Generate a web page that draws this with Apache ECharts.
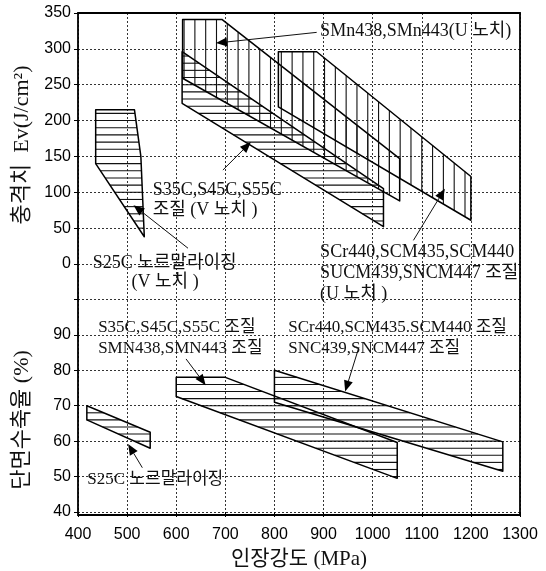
<!DOCTYPE html>
<html><head><meta charset="utf-8">
<script src="https://cdn.jsdelivr.net/npm/echarts@6/dist/echarts.min.js"></script>
<style>html,body{margin:0;padding:0;background:#fff}#c{width:546px;height:571px}</style>
</head><body><div id="c"></div>
<script>
// ---- axis ticks ----
const tensileTicks = [400, 500, 600, 700, 800, 900, 1000, 1100, 1200, 1300];
const impactTicks = [0, 50, 100, 150, 200, 250, 300, 350];
const reductionTicks = [40, 50, 60, 70, 80, 90];

// ---- upper panel: tensile strength (MPa) vs impact value (J/cm2) ----
const s25cImpactX = [436, 515, 528, 535, 436];
const s25cImpactY = [215, 215, 150, 38, 140];
const s35cImpactX = [612, 1022, 1022, 612];
const s35cImpactY = [296, 105, 52, 224];
const smnImpactX = [613, 693, 1055, 1055, 613];
const smnImpactY = [341, 341, 147, 88, 259];
const scrImpactX = [808, 886, 1200, 1200, 808];
const scrImpactY = [296, 296, 122, 61, 219];

// ---- lower panel: tensile strength (MPa) vs reduction of area (%) ----
const s25cRedX = [418, 547, 547, 418];
const s25cRedY = [70, 62.5, 58, 66];
const s35cRedX = [600, 700, 1050, 1050, 600];
const s35cRedY = [78, 78, 59.6, 49.5, 72.6];
const scrRedX = [800, 1265, 1265, 800];
const scrRedY = [80, 59.8, 51.5, 71];

// ---- annotations ----
const topLabelX = [893, 552, 552, 430, 509, 893, 893, 893];
const topLabelY = [324, 103, 75, 1, -25, 17, -13, -42];
const topLabelText = ['SMn438,SMn443(U 노치)', 'S35C,S45C,S55C', '조질 (V 노치 )', 'S25C 노르말라이징', '(V 노치 )',
  'SCr440,SCM435,SCM440', 'SUCM439,SNCM447 조질', '(U 노치 )'];
const topArrowFromX = [886, 695, 624, 1083];
const topArrowFromY = [323, 131, 22, 33];
const topArrowToX = [681, 752, 513, 1147];
const topArrowToY = [308, 170, 82, 105];

const botLabelX = [441, 441, 828, 828, 419];
const botLabelY = [92.1, 86.2, 92.1, 86.2, 49.3];
const botLabelText = ['S35C,S45C,S55C 조질', 'SMN438,SMN443 조질', 'SCr440,SCM435.SCM440 조질', 'SNC439,SNCM447 조질', 'S25C 노르말라이징'];
const botArrowFromX = [620, 972, 531];
const botArrowFromY = [83.2, 86.5, 52.5];
const botArrowToX = [660, 944, 502];
const botArrowToY = [75.8, 74, 59.2];

const SERIF = '"Liberation Serif","Noto Sans CJK KR",serif';
const SANS = '"Liberation Sans",Arial,sans-serif';

function hatchSegments(xs, ys, dir, step) {
  const n = xs.length, segs = [];
  const a = dir === 'h' ? ys : xs, b = dir === 'h' ? xs : ys;
  const mn = Math.min.apply(null, a), mx = Math.max.apply(null, a);
  for (let L = Math.floor(mn / step) * step + step; L < mx; L += step) {
    if (L <= mn) continue;
    const hits = [];
    for (let i = 0; i < n; i++) {
      const j = (i + 1) % n;
      const a1 = a[i], a2 = a[j], b1 = b[i], b2 = b[j];
      if ((a1 <= L && a2 > L) || (a2 <= L && a1 > L)) {
        hits.push(b1 + (L - a1) * (b2 - b1) / (a2 - a1));
      }
    }
    hits.sort((p, q) => p - q);
    for (let k = 0; k + 1 < hits.length; k += 2) {
      if (dir === 'h') segs.push([[hits[k], L], [hits[k + 1], L]]);
      else segs.push([[L, hits[k]], [L, hits[k + 1]]]);
    }
  }
  return segs;
}

function shapeSeries(xs, ys, dir, step, gi) {
  return {
    type: 'custom', xAxisIndex: gi, yAxisIndex: gi, silent: true, clip: false, z: 5,
    data: xs.map((x, i) => [x, ys[i]]),
    renderItem: function (params, api) {
      if (params.dataIndex !== 0) return null;
      const pts = xs.map((x, i) => api.coord([x, ys[i]]));
      const children = [];
      hatchSegments(xs, ys, dir, step).forEach(s => {
        const p = api.coord(s[0]), q = api.coord(s[1]);
        children.push({ type: 'line', shape: { x1: p[0], y1: p[1], x2: q[0], y2: q[1] },
          style: { stroke: '#111', lineWidth: 1.1 } });
      });
      children.push({ type: 'polygon', shape: { points: pts },
        style: { fill: 'none', stroke: '#000', lineWidth: 1.5, lineJoin: 'round' } });
      return { type: 'group', children: children };
    }
  };
}

function labelSeries(xs, ys, texts, gi, size) {
  return {
    type: 'custom', xAxisIndex: gi, yAxisIndex: gi, silent: true, clip: false, z: 8,
    data: xs.map((x, i) => [x, ys[i]]),
    renderItem: function (params, api) {
      const p = api.coord([api.value(0), api.value(1)]);
      return { type: 'text', x: p[0], y: p[1],
        style: { text: texts[params.dataIndex], fill: '#111', fontSize: size, fontFamily: SERIF,
          align: 'left', verticalAlign: 'middle' } };
    }
  };
}

function arrowSeries(fx, fy, tx, ty, gi) {
  return {
    type: 'custom', xAxisIndex: gi, yAxisIndex: gi, silent: true, clip: false, z: 7,
    data: fx.map((x, i) => [x, fy[i], tx[i], ty[i]]),
    renderItem: function (params, api) {
      const a = api.coord([api.value(0), api.value(1)]);
      const b = api.coord([api.value(2), api.value(3)]);
      const dx = b[0] - a[0], dy = b[1] - a[1], len = Math.sqrt(dx * dx + dy * dy);
      const ux = dx / len, uy = dy / len, hl = 11, hw = 4.5;
      const bx = b[0] - ux * hl, by = b[1] - uy * hl;
      return { type: 'group', children: [
        { type: 'line', shape: { x1: a[0], y1: a[1], x2: bx, y2: by }, style: { stroke: '#111', lineWidth: 1 } },
        { type: 'polygon', shape: { points: [[b[0], b[1]], [bx - uy * hw, by + ux * hw], [bx + uy * hw, by - ux * hw]] },
          style: { fill: '#000' } }
      ] };
    }
  };
}

const gridLine = { show: true, lineStyle: { color: '#333', type: [2, 2], width: 1 } };
const tickStyle = { show: true, inside: false, length: 4, lineStyle: { color: '#000', width: 1 } };
const tickLabel = { color: '#000', fontSize: 16, fontFamily: SANS, margin: 7, formatter: v => String(v) };

const option = {
  animation: false,
  backgroundColor: '#fff',
  grid: [
    { left: 78, right: 26, top: 13, height: 251 },
    { left: 78, right: 26, top: 264, height: 251 },
    { left: 78, right: 26, top: 13, bottom: 56, show: true, borderColor: '#000', borderWidth: 1.8,
      backgroundColor: 'transparent', z: 10 }
  ],
  xAxis: [
    { gridIndex: 0, type: 'value', min: tensileTicks[0], max: tensileTicks[tensileTicks.length - 1], interval: 100,
      axisLine: { show: false }, axisTick: { show: false }, axisLabel: { show: false }, splitLine: gridLine },
    { gridIndex: 1, type: 'value', min: tensileTicks[0], max: tensileTicks[tensileTicks.length - 1], interval: 100,
      axisLine: { show: false }, axisTick: Object.assign({}, tickStyle, { length: 5 }),
      axisLabel: Object.assign({}, tickLabel, { margin: 15 }), splitLine: gridLine,
      name: '인장강도 (MPa)', nameLocation: 'middle', nameGap: 37,
      nameTextStyle: { color: '#111', fontSize: 21, fontFamily: SERIF } },
    { gridIndex: 2, type: 'value', min: 0, max: 1, show: false }
  ],
  yAxis: [
    { gridIndex: 0, type: 'value', min: impactTicks[0], max: impactTicks[impactTicks.length - 1], interval: 50,
      axisLine: { show: false }, axisTick: tickStyle, axisLabel: tickLabel, splitLine: gridLine,
      name: '충격치  Ev(J/cm²)', nameLocation: 'middle', nameGap: 45, nameRotate: 90,
      nameTextStyle: { color: '#111', fontSize: 22, fontFamily: SERIF, padding: [0, 13, 0, 0] } },
    { gridIndex: 1, type: 'value', min: reductionTicks[0], max: 110, interval: 10,
      axisLine: { show: false }, axisTick: tickStyle,
      axisLabel: Object.assign({}, tickLabel, { formatter: v => (reductionTicks.indexOf(v) >= 0 ? String(v) : '') }),
      splitLine: gridLine,
      name: '단면수축율 (%)', nameLocation: 'middle', nameGap: 45, nameRotate: 90,
      nameTextStyle: { color: '#111', fontSize: 22, fontFamily: SERIF, padding: [0, 64, 0, 0] } },
    { gridIndex: 2, type: 'value', min: 0, max: 1, show: false }
  ],
  series: [
    shapeSeries(s25cImpactX, s25cImpactY, 'h', 10, 0),
    shapeSeries(s35cImpactX, s35cImpactY, 'h', 10, 0),
    shapeSeries(smnImpactX, smnImpactY, 'v', 22, 0),
    shapeSeries(scrImpactX, scrImpactY, 'v', 22, 0),
    shapeSeries(s25cRedX, s25cRedY, 'h', 2, 1),
    shapeSeries(s35cRedX, s35cRedY, 'h', 2, 1),
    shapeSeries(scrRedX, scrRedY, 'h', 2, 1),
    labelSeries(topLabelX, topLabelY, topLabelText, 0, 18),
    labelSeries(botLabelX, botLabelY, botLabelText, 1, 17),
    arrowSeries(topArrowFromX, topArrowFromY, topArrowToX, topArrowToY, 0),
    arrowSeries(botArrowFromX, botArrowFromY, botArrowToX, botArrowToY, 1)
  ]
};

const chart = echarts.init(document.getElementById('c'), null, { renderer: 'canvas' });
chart.setOption(option);
</script>
</body></html>
